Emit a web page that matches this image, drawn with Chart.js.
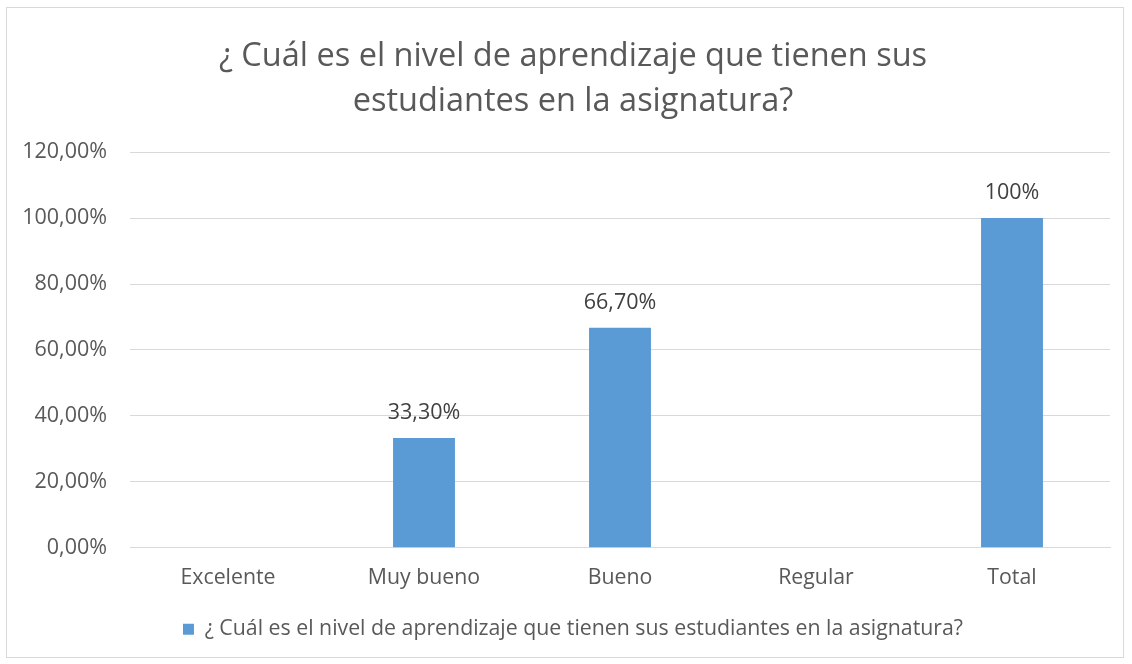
<!DOCTYPE html>
<html>
<head>
<meta charset="utf-8">
<script src="https://cdn.jsdelivr.net/npm/chart.js@4.4.1/dist/chart.umd.min.js"></script>
<style>
  html, body { margin: 0; padding: 0; background: #fff; }
  #wrap { position: absolute; left: 0; top: 0; width: 1132px; height: 664px; }
  #frame { position: absolute; left: 6px; top: 7px; width: 1118px; height: 651px; border: 1px solid #d9d9d9; box-sizing: border-box; pointer-events: none; }
</style>
</head>
<body>
<div id="wrap"><canvas id="c" width="1132" height="664"></canvas></div>
<div id="frame"></div>
<script>
const categories = ['Excelente', 'Muy bueno', 'Bueno', 'Regular', 'Total'];
const values = [0, 33.3, 66.7, 0, 100];
const valueLabels = ['', '33,30%', '66,70%', '', '100%'];
const yTickLabels = ['0,00%', '20,00%', '40,00%', '60,00%', '80,00%', '100,00%', '120,00%'];
const seriesName = '¿ Cuál es el nivel de aprendizaje que tienen sus estudiantes en la asignatura?';
const titleLines = ['¿ Cuál es el nivel de aprendizaje que tienen sus', 'estudiantes en la asignatura?'];

const FONT = "'Open Sans', 'Noto Sans', sans-serif";
const TEXT = '#595959';

const valueLabelPlugin = {
  id: 'valueLabels',
  afterDatasetsDraw(chart) {
    const ctx = chart.ctx;
    const meta = chart.getDatasetMeta(0);
    ctx.save();
    ctx.font = "21.5px " + FONT;
    ctx.fillStyle = '#404040';
    ctx.textAlign = 'center';
    ctx.textBaseline = 'middle';
    meta.data.forEach((bar, i) => {
      const t = valueLabels[i];
      if (t) ctx.fillText(t, bar.x, bar.y - 25);
    });
    ctx.restore();
  }
};

new Chart(document.getElementById('c'), {
  type: 'bar',
  data: {
    labels: categories,
    datasets: [{
      label: seriesName,
      data: values,
      backgroundColor: '#5b9bd5',
      borderWidth: 0,
      categoryPercentage: 1.0,
      barPercentage: 0.316
    }]
  },
  options: {
    responsive: false,
    animation: false,
    devicePixelRatio: 1,
    layout: { padding: { left: 14, right: 0, top: 0, bottom: 14 } },
    plugins: {
      title: {
        display: true,
        text: titleLines,
        color: TEXT,
        font: { family: FONT, size: 32.5, weight: 'normal', lineHeight: 1.38 },
        padding: { top: 34.5, bottom: 28 }
      },
      legend: {
        display: true,
        position: 'bottom',
        labels: {
          color: TEXT,
          font: { family: FONT, size: 21.3 },
          boxWidth: 11,
          boxHeight: 11,
          padding: 6
        }
      },
      tooltip: { enabled: false }
    },
    scales: {
      x: {
        grid: { display: false, drawTicks: false },
        border: { display: true, color: '#d9d9d9' },
        ticks: { color: TEXT, font: { family: FONT, size: 21.3 }, padding: 17 },
        afterFit(scale) { scale.height = 65; }
      },
      y: {
        min: 0, max: 120,
        ticks: {
          stepSize: 20,
          color: TEXT,
          font: { family: FONT, size: 21.5 },
          padding: 23,
          callback: (v, i) => yTickLabels[i]
        },
        grid: { color: '#d9d9d9', drawTicks: false },
        border: { display: false },
        afterFit(scale) { scale.width = 116; }
      },
      yRight: {
        position: 'right',
        display: true,
        grid: { display: false, drawTicks: false },
        border: { display: false },
        ticks: { display: false },
        afterFit(scale) { scale.width = 22; }
      }
    }
  },
  plugins: [valueLabelPlugin]
});
</script>
</body>
</html>
